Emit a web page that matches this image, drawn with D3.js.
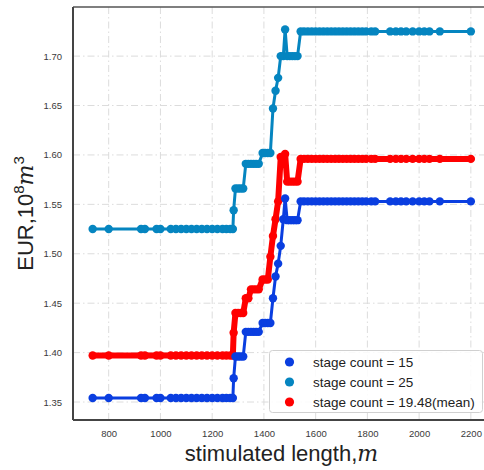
<!DOCTYPE html>
<html>
<head>
<meta charset="utf-8">
<script src="https://cdn.jsdelivr.net/npm/d3@7"></script>
<style>
  html, body { margin: 0; padding: 0; background: #fff; }
  svg { display: block; }
</style>
</head>
<body>
<svg id="chart" width="484" height="470"></svg>
<script>
// Stimulated length (m) shared by every curve
const lengths = [
  738, 800, 925, 940, 985, 1000, 1040, 1060, 1080, 1100, 1120, 1140, 1160, 1180,
  1200, 1220, 1240, 1255, 1270, 1280,
  1283, 1290, 1300, 1310, 1320, 1330, 1340, 1350, 1360, 1370, 1380,
  1395, 1405, 1415, 1425, 1435, 1445, 1455, 1465, 1475, 1482,
  1490, 1500, 1510, 1520, 1530, 1542,
  1555, 1570, 1585, 1600, 1615, 1630, 1645, 1660, 1675, 1690, 1705, 1720,
  1735, 1750, 1765, 1780, 1795, 1815, 1830,
  1888, 1910, 1930, 1950, 1975, 2000, 2020, 2040, 2080, 2200
];

const flat = (v, n) => Array(n).fill(v);

// EUR (10^8 m^3) for each stage count
const eur15 = [].concat(
  flat(1.354, 20),
  [1.374, 1.396, 1.396, 1.396, 1.396, 1.421, 1.421, 1.421, 1.421, 1.421, 1.421,
   1.430, 1.430, 1.430, 1.430, 1.455, 1.477, 1.490, 1.508, 1.535, 1.556,
   1.534, 1.534, 1.534, 1.534, 1.534, 1.553],
  flat(1.553, 29)
);
const eur25 = [].concat(
  flat(1.525, 20),
  [1.544, 1.566, 1.566, 1.566, 1.566, 1.591, 1.591, 1.591, 1.591, 1.591, 1.591,
   1.602, 1.602, 1.602, 1.602, 1.647, 1.665, 1.678, 1.700, 1.700, 1.727,
   1.700, 1.700, 1.700, 1.700, 1.700, 1.725],
  flat(1.725, 29)
);
const eurMean = [].concat(
  flat(1.397, 20),
  [1.420, 1.440, 1.440, 1.440, 1.440, 1.455, 1.455, 1.464, 1.464, 1.464, 1.464,
   1.474, 1.474, 1.474, 1.497, 1.518, 1.535, 1.553, 1.598, 1.598, 1.601,
   1.573, 1.573, 1.573, 1.573, 1.573, 1.596],
  flat(1.596, 29)
);

const seriesNames = ["stage count = 15", "stage count = 25", "stage count = 19.48(mean)"];
const seriesValues = [eur15, eur25, eurMean];
const seriesColors = ["#0a3ee0", "#0585c0", "#ff0000"];
const seriesWidths = [3, 3, 6];

const xTicks = [800, 1000, 1200, 1400, 1600, 1800, 2000, 2200];
const yTicks = [1.35, 1.40, 1.45, 1.50, 1.55, 1.60, 1.65, 1.70];

const svg = d3.select("#chart");
const plotLeft = 73, plotTop = 7, plotBottom = 420, plotRight = 490;

const x = d3.scaleLinear().domain([662, 2274]).range([plotLeft, plotRight]);
const y = d3.scaleLinear().domain([1.3318, 1.7497]).range([plotBottom, plotTop]);

// grid
const grid = svg.append("g");
grid.selectAll("line.gx").data(xTicks).join("line")
  .attr("x1", d => x(d)).attr("x2", d => x(d))
  .attr("y1", plotTop).attr("y2", plotBottom)
  .attr("stroke", "#dcdcdc").attr("stroke-width", 1)
  .attr("stroke-dasharray", "7,3,1.5,3");
grid.selectAll("line.gy").data(yTicks).join("line")
  .attr("x1", plotLeft).attr("x2", plotRight)
  .attr("y1", d => y(d)).attr("y2", d => y(d))
  .attr("stroke", "#dcdcdc").attr("stroke-width", 1)
  .attr("stroke-dasharray", "7,3,1.5,3");

// axes (labels only, no tick marks)
const xAxis = d3.axisBottom(x).tickValues(xTicks).tickFormat(d3.format("d")).tickSize(0).tickPadding(10);
const yAxis = d3.axisLeft(y).tickValues(yTicks).tickFormat(d3.format(".2f")).tickSize(0).tickPadding(11);

const gx = svg.append("g").attr("transform", `translate(0,${plotBottom})`).call(xAxis);
const gy = svg.append("g").attr("transform", `translate(${plotLeft},0)`).call(yAxis);
[gx, gy].forEach(g => {
  g.select(".domain").remove();
  g.selectAll("text").attr("font-family", "Liberation Sans, Arial, sans-serif")
    .attr("font-size", 9.5).attr("fill", "#3a3a3a");
});

// series: mean first, then the two stage counts
const order = [2, 0, 1];
const line = d3.line().x((d, i) => x(lengths[i])).y(d => y(d));
order.forEach(k => {
  const g = svg.append("g");
  g.append("path").datum(seriesValues[k])
    .attr("d", line)
    .attr("fill", "none")
    .attr("stroke", seriesColors[k])
    .attr("stroke-width", seriesWidths[k])
    .attr("stroke-linejoin", "round");
  g.selectAll("circle").data(seriesValues[k]).join("circle")
    .attr("cx", (d, i) => x(lengths[i]))
    .attr("cy", d => y(d))
    .attr("r", 4.2)
    .attr("fill", seriesColors[k]);
});

// spines
svg.append("line").attr("x1", plotLeft).attr("x2", plotRight).attr("y1", plotTop).attr("y2", plotTop)
  .attr("stroke", "#555").attr("stroke-width", 1.5);
svg.append("line").attr("x1", plotLeft).attr("x2", plotLeft).attr("y1", plotTop).attr("y2", plotBottom)
  .attr("stroke", "#444").attr("stroke-width", 2);
svg.append("line").attr("x1", plotLeft).attr("x2", plotRight).attr("y1", plotBottom).attr("y2", plotBottom)
  .attr("stroke", "#444").attr("stroke-width", 2);

// axis titles
svg.append("text")
  .attr("x", (plotLeft + plotRight) / 2).attr("y", 461)
  .attr("text-anchor", "middle")
  .attr("font-family", "Liberation Sans, Arial, sans-serif")
  .attr("font-size", 22).attr("fill", "#222")
  .call(t => {
    t.append("tspan").text("stimulated length,");
    t.append("tspan").attr("font-style", "italic").attr("font-family", "DejaVu Serif, serif").text("m");
  });

svg.append("text")
  .attr("transform", `translate(33,${(plotTop + plotBottom) / 2}) rotate(-90)`)
  .attr("text-anchor", "middle")
  .attr("font-family", "Liberation Sans, Arial, sans-serif")
  .attr("font-size", 22).attr("fill", "#222")
  .call(t => {
    t.append("tspan").text("EUR,10");
    t.append("tspan").attr("font-size", 15).attr("dy", -9).text("8");
    t.append("tspan").attr("dy", 9).attr("font-style", "italic").attr("font-family", "DejaVu Serif, serif").text("m");
    t.append("tspan").attr("font-size", 15).attr("dy", -9).text("3");
  });

// legend
const lg = svg.append("g");
lg.append("rect")
  .attr("x", 269.5).attr("y", 350.5).attr("width", 213).attr("height", 62)
  .attr("rx", 3).attr("fill", "rgba(255,255,255,0.85)")
  .attr("stroke", "#d0d0d0").attr("stroke-width", 1);
seriesNames.forEach((name, i) => {
  const yy = 362 + i * 20;
  lg.append("circle").attr("cx", 289.5).attr("cy", yy).attr("r", 4.6).attr("fill", seriesColors[i]);
  lg.append("text").attr("x", 313).attr("y", yy + 4.5)
    .attr("font-family", "Liberation Sans, Arial, sans-serif")
    .attr("font-size", 13.5).attr("fill", "#222").text(name);
});
</script>
</body>
</html>
